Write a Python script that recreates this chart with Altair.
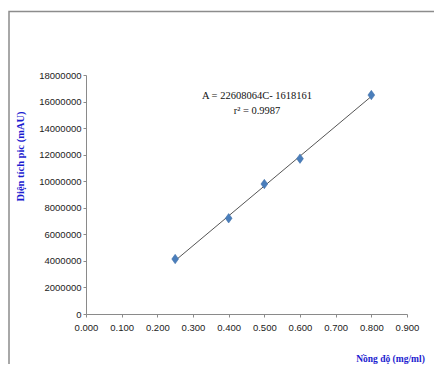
import altair as alt
import pandas as pd

# Data
conc = [0.25, 0.40, 0.50, 0.60, 0.80]                       # mg/ml
area = [4140000, 7210000, 9790000, 11700000, 16490000]     # mAU
x_ticks = [0.0, 0.1, 0.2, 0.3, 0.4, 0.5, 0.6, 0.7, 0.8, 0.9]
y_ticks = [0, 2000000, 4000000, 6000000, 8000000, 10000000, 12000000,
           14000000, 16000000, 18000000]
equation = ["A = 22608064C- 1618161", "r² = 0.9987"]

df = pd.DataFrame({"conc": conc, "area": area})

SERIF = "Liberation Serif"
SANS = "Liberation Sans Narrow, Liberation Sans, Arial"
BLUE_T = "#1c1cd0"
AXIS_C = "#8a8a8a"

W, H = 321, 239

x_axis = alt.Axis(
    values=x_ticks, format=".3f", title="Nồng độ (mg/ml)",
    grid=False, domainColor=AXIS_C, tickColor=AXIS_C, tickSize=3,
    labelFont=SANS, labelFontSize=9.5, labelColor="#222222", labelPadding=5,
    labelOverlap=False, labelFlush=False,
    titleFont=SERIF, titleFontSize=9.5, titleFontWeight="bold", titleColor=BLUE_T,
    titleX=304, titleY=44, titleAlign="center", titleBaseline="middle",
)
y_axis = alt.Axis(
    values=y_ticks, format="d", title="Diện tích pic (mAU)",
    grid=False, domainColor=AXIS_C, tickColor=AXIS_C, tickSize=3,
    labelFont=SANS, labelFontSize=9.5, labelColor="#222222", labelPadding=2,
    labelOverlap=False, labelFlush=False,
    titleFont=SERIF, titleFontSize=10.5, titleFontWeight="bold", titleColor=BLUE_T,
    titleAngle=-90, titleX=-66, titleY=81, titleAlign="center", titleBaseline="middle",
)
x_scale = alt.Scale(domain=[0, 0.9], nice=False, zero=False)
y_scale = alt.Scale(domain=[0, 18000000], nice=False)

x_enc = alt.X("conc:Q", scale=x_scale, axis=x_axis)
y_enc = alt.Y("area:Q", scale=y_scale, axis=y_axis)

base = alt.Chart(df)

trend = base.transform_regression("conc", "area").mark_line(
    color="#555555", strokeWidth=1
).encode(x=x_enc, y=y_enc)

points = base.mark_point(
    shape="M0,-1L0.72,0L0,1L-0.72,0Z", filled=True, size=90,
    color="#4a7ebb", opacity=1, stroke="#3a6aa5", strokeWidth=0.5,
).encode(x=x_enc, y=y_enc)

eq_df = pd.DataFrame({"txt": ["\n".join(equation)]})
eq = alt.Chart(eq_df).mark_text(
    font=SERIF, fontSize=10.5, color="#111111", align="center", baseline="top",
    lineBreak="\n", lineHeight=15,
).encode(
    x=alt.value(171),
    y=alt.value(16),
    text="txt:N",
)

frame = alt.Chart(alt.Data(values=[{"f": 1}])).mark_rect(
    fillOpacity=0, stroke="#8c8c8c", strokeWidth=1.5
).encode(
    x=alt.value(-77), x2=alt.value(420),
    y=alt.value(-63.5), y2=alt.value(420),
)

chart = alt.layer(frame, trend, points, eq).properties(
    width=W, height=H,
    autosize=alt.AutoSizeParams(type="none"),
    padding={"left": 78, "top": 67, "right": 27, "bottom": 50},
    background="white",
).configure_view(stroke=None)

chart.save("out.html", embed_options={"renderer": "svg", "actions": False})
